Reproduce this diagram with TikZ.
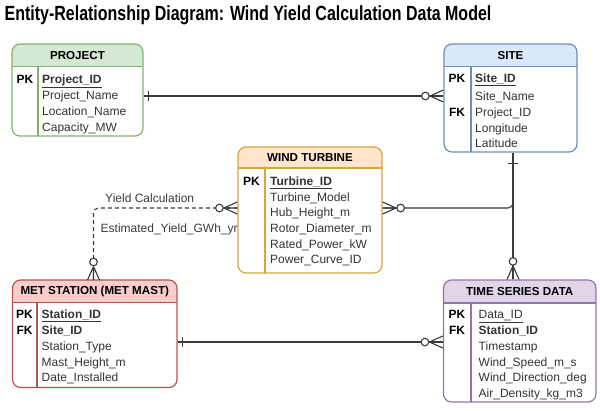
\documentclass[tikz,border=0pt]{standalone}
\usepackage{fontspec}
\setmainfont{Liberation Sans}
\usetikzlibrary{calc}
\definecolor{ln}{HTML}{3A3A3A}
\definecolor{txt}{HTML}{333333}
\definecolor{gfill}{HTML}{D5E8D4}\definecolor{gdraw}{HTML}{82B366}
\definecolor{bfill}{HTML}{DAE8FC}\definecolor{bdraw}{HTML}{6C8EBF}
\definecolor{ofill}{HTML}{FFE6CC}\definecolor{odraw}{HTML}{D6A63A}
\definecolor{rfill}{HTML}{F8CECC}\definecolor{rdraw}{HTML}{B85450}
\definecolor{pfill}{HTML}{E1D5E7}\definecolor{pdraw}{HTML}{9673A6}
\tikzset{
  conn/.style={draw=ln, line width=1.1pt},
  fld/.style={anchor=west, inner sep=0pt, text height=8.6pt, text depth=0pt, font=\fontsize{12}{14}\selectfont, text=txt},
  key/.style={anchor=center, inner sep=0pt, text height=8.6pt, text depth=0pt, font=\fontsize{12}{14}\selectfont\bfseries},
  hdr/.style={anchor=center, inner sep=0pt, font=\fontsize{11.6}{14}\selectfont\bfseries},
  lbl/.style={anchor=west, inner sep=0pt, text height=8.6pt, text depth=0pt, font=\fontsize{12}{14}\selectfont, text=ln},
}
% #1 name, #2 x1, #3 y1, #4 x2, #5 y2, #6 header bottom, #7 divider x, #8 fill, #9 draw
\newcommand\ERbox[9]{%
  \begin{scope}
    \clip[rounded corners=8pt] (#2,#3) rectangle (#4,#5);
    \fill[#8] (#2,#3) rectangle (#4,#6);
  \end{scope}
  \node[draw=#9, line width=1.2pt, rounded corners=8pt, inner sep=0pt,
        minimum width={(#4-#2)*1pt}, minimum height={(#5-#3)*1pt}]
        (#1) at ({(#2+#4)/2},{(#3+#5)/2}) {};
  \draw[#9, line width=1.1pt] (#2,#6) -- (#4,#6);
  \draw[#9, line width=1.1pt] (#7,#6) -- (#7,#5);
}
\newcommand\crowend[2]{%
  \begin{scope}[shift={(#1)}, rotate=#2]
    \draw[conn] (13.5,0) -- (0,-6) (13.5,0) -- (0,0) (13.5,0) -- (0,6);
    \draw[conn, fill=white] (18,0) circle (3.8);
  \end{scope}}
\newcommand\tickend[3]{%
  \begin{scope}[shift={(#1)}, rotate=#2]
    \draw[conn] (#3,-5) -- (#3,5);
  \end{scope}}
\begin{document}
\begin{tikzpicture}[x=1pt,y=-1pt]
\useasboundingbox (0,0) rectangle (600,410);
\node[anchor=west, inner sep=0pt, xscale=0.78, font=\fontsize{20.5}{24}\selectfont\bfseries] (title) at (4.5,15) {Entity-Relationship Diagram: Wind Yield Calculation Data Model};

% ---------- entities ----------
\ERbox{proj}{12}{44}{143}{136}{66.5}{38}{gfill}{gdraw}
\node[hdr] (projh) at (proj.north |- 0,55.5) {PROJECT};
\node[key] (projpk) at (25,79) {PK};
\node[fld, font=\fontsize{12}{14}\selectfont\bfseries] (pid) at (42,79) {\underline{Project\_ID}};
\node[fld] (pname) at (42,95.5) {Project\_Name};
\node[fld] (ploc) at (42,111.5) {Location\_Name};
\node[fld] (pcap) at (42,127.5) {Capacity\_MW};

\ERbox{site}{444}{44}{577}{152}{66.5}{471}{bfill}{bdraw}
\node[hdr] (siteh) at (site.north |- 0,55.5) {SITE};
\node[key] (sitepk) at (457,78.5) {PK};
\node[key] (sitefk) at (457,112) {FK};
\node[fld, font=\fontsize{12}{14}\selectfont\bfseries] (sid) at (475,78.5) {\underline{Site\_ID}};
\node[fld] (sname) at (475,96) {Site\_Name};
\node[fld] (spid) at (475,112) {Project\_ID};
\node[fld] (slon) at (475,128) {Longitude};
\node[fld] (slat) at (475,143.5) {Latitude};

\ERbox{wt}{238}{147}{382}{273}{168}{265}{ofill}{odraw}
\node[hdr] (wth) at (wt.north |- 0,157.5) {WIND TURBINE};
\node[key] (wtpk) at (251.5,180.7) {PK};
\node[fld, font=\fontsize{12}{14}\selectfont\bfseries] (tid) at (270,180.7) {\underline{Turbine\_ID}};
\node[fld] (tmod) at (270,196.7) {Turbine\_Model};
\node[fld] (thub) at (270,212.5) {Hub\_Height\_m};
\node[fld] (trot) at (270,228) {Rotor\_Diameter\_m};
\node[fld] (trat) at (270,244) {Rated\_Power\_kW};
\node[fld] (tpc) at (270,259.5) {Power\_Curve\_ID};

\ERbox{met}{12.5}{280}{177}{387.5}{302.5}{37}{rfill}{rdraw}
\node[hdr] (meth) at (met.north |- 0,291.5) {MET STATION (MET MAST)};
\node[key] (metpk) at (24.5,314) {PK};
\node[key] (metfk) at (24.5,330) {FK};
\node[fld, font=\fontsize{12}{14}\selectfont\bfseries] (mid) at (41.5,314) {\underline{Station\_ID}};
\node[fld, font=\fontsize{12}{14}\selectfont\bfseries] (msid) at (41.5,330) {Site\_ID};
\node[fld] (mtyp) at (41.5,346) {Station\_Type};
\node[fld] (mhgt) at (41.5,361.7) {Mast\_Height\_m};
\node[fld] (mdat) at (41.5,377.3) {Date\_Installed};

\ERbox{ts}{443.5}{280}{596}{402}{303}{471}{pfill}{pdraw}
\node[hdr] (tsh) at (ts.north |- 0,291.5) {TIME SERIES DATA};
\node[key] (tspk) at (457,314.3) {PK};
\node[key] (tsfk) at (457,330.5) {FK};
\node[fld] (did) at (478.5,314.3) {\underline{Data\_ID}};
\node[fld, font=\fontsize{12}{14}\selectfont\bfseries] (dsid) at (478.5,330.5) {Station\_ID};
\node[fld] (dts) at (478.5,346.5) {Timestamp};
\node[fld] (dws) at (478.5,361.7) {Wind\_Speed\_m\_s};
\node[fld] (dwd) at (478.5,377) {Wind\_Direction\_deg};
\node[fld] (dad) at (478.5,393.3) {Air\_Density\_kg\_m3};

% ---------- connector end points ----------
\coordinate (vx) at (513,0);
\coordinate (e1) at (proj.east |- 0,96);
\coordinate (e2) at (site.west |- 0,96);
\coordinate (e3) at (site.south -| vx);
\coordinate (e4) at (ts.north -| vx);
\coordinate (e5) at (wt.east |- 0,208);
\coordinate (e6) at (wt.west |- 0,208);
\coordinate (e7) at (93.5,280);
\coordinate (e8) at (met.east |- 0,342);
\coordinate (e9) at (ts.west |- 0,342);

% ---------- connectors ----------
\draw[conn] (e1) -- (e2);
\draw[conn] (e3) -- (e4);
\draw[conn, rounded corners=5pt] (e5) -- (vx |- e5) -- ++(0,-14);
\draw[conn, dash pattern=on 4pt off 3pt, rounded corners=5pt] (e7) -- (e7 |- e6) -- (e6);
\draw[conn] (e8) -- (e9);

\tickend{e1}{0}{5}
\crowend{e2}{180}
\tickend{e3}{-90}{11}
\crowend{e4}{90}
\crowend{e5}{0}
\crowend{e6}{180}
\crowend{e7}{90}
\tickend{e8}{0}{5}
\crowend{e9}{180}

% ---------- labels ----------
\node[lbl] (l1) at (105,198.3) {Yield Calculation};
\node[lbl] (l2) at (100.5,228) {Estimated\_Yield\_GWh\_yr};
\end{tikzpicture}
\end{document}
